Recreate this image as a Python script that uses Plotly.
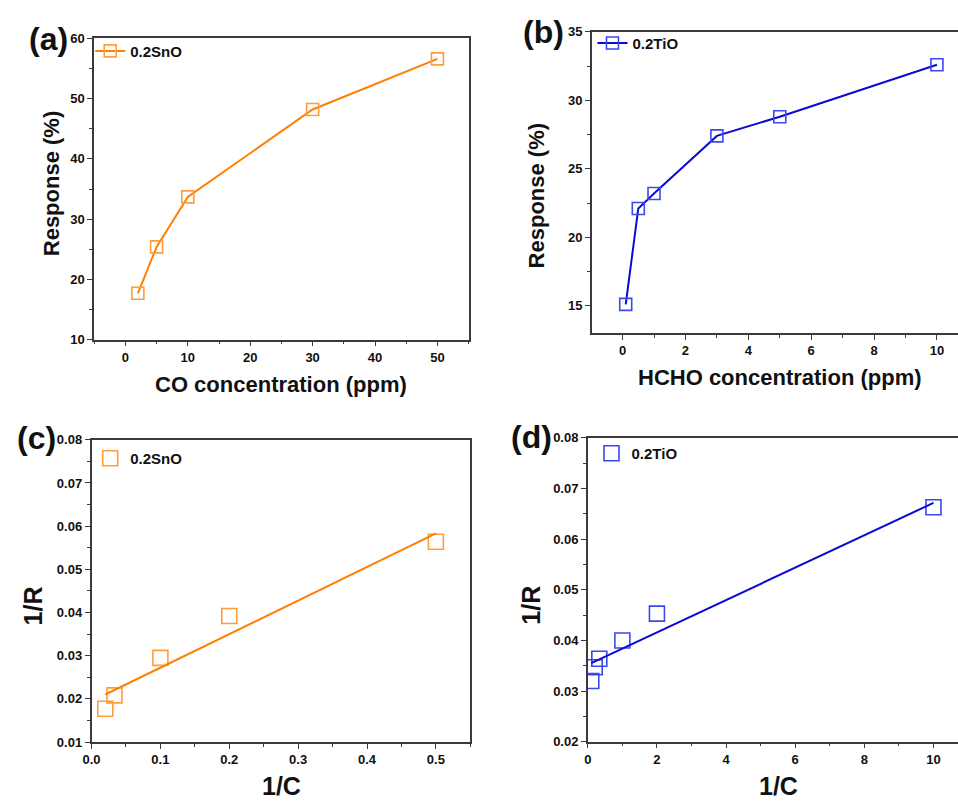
import numpy as np
import plotly.graph_objects as go

# ---- data -------------------------------------------------------------
co_ppm = [2, 5, 10, 30, 50]
co_response = [17.7, 25.4, 33.7, 48.2, 56.6]

hcho_ppm = [0.1, 0.5, 1, 3, 5, 10]
hcho_response = [15.1, 22.1, 23.2, 27.4, 28.8, 32.6]

sno_inv_c = [0.02, 1 / 30, 0.1, 0.2, 0.5]
sno_inv_r = [0.0177, 0.0208, 0.0295, 0.0392, 0.0564]

tio_inv_c = [0.1, 0.2, 1 / 3, 1, 2, 10]
tio_inv_r = [0.0320, 0.0347, 0.0364, 0.0400, 0.0453, 0.0663]

ORANGE_LINE = "#ff7f00"
ORANGE_MARK = "#ff9d3c"
BLUE_LINE = "#0a0ad0"
BLUE_MARK = "#3a48f0"
FONT = "Arial, 'Liberation Sans', sans-serif"
AXIS_COLOR = "#3a3a3a"

W, H = 958, 805


def px_x(p):
    return p / W


def px_y(p):
    return 1 - p / H


fig = go.Figure()

# (a) CO response
fig.add_trace(go.Scatter(
    x=co_ppm, y=co_response, mode="lines+markers", name="0.2SnO",
    line=dict(color=ORANGE_LINE, width=2),
    marker=dict(symbol="square-open", size=12, color=ORANGE_MARK, line=dict(width=1.6)),
    xaxis="x", yaxis="y", legend="legend"))

# (b) HCHO response
fig.add_trace(go.Scatter(
    x=hcho_ppm, y=hcho_response, mode="lines+markers", name="0.2TiO",
    line=dict(color=BLUE_LINE, width=2),
    marker=dict(symbol="square-open", size=12, color=BLUE_MARK, line=dict(width=1.6)),
    xaxis="x2", yaxis="y2", legend="legend2"))

# (c) 1/R vs 1/C for SnO, with least-squares line
k_c, b_c = np.polyfit(sno_inv_c, sno_inv_r, 1)
xs_c = np.array([min(sno_inv_c), max(sno_inv_c)])
fig.add_trace(go.Scatter(
    x=sno_inv_c, y=sno_inv_r, mode="markers", name="0.2SnO",
    marker=dict(symbol="square-open", size=15, color=ORANGE_MARK, line=dict(width=1.6)),
    xaxis="x3", yaxis="y3", legend="legend3"))
fig.add_trace(go.Scatter(
    x=xs_c, y=k_c * xs_c + b_c, mode="lines", showlegend=False,
    line=dict(color=ORANGE_LINE, width=2), xaxis="x3", yaxis="y3"))

# (d) 1/R vs 1/C for TiO, with least-squares line
k_d, b_d = np.polyfit(tio_inv_c, tio_inv_r, 1)
xs_d = np.array([min(tio_inv_c), max(tio_inv_c)])
fig.add_trace(go.Scatter(
    x=tio_inv_c, y=tio_inv_r, mode="markers", name="0.2TiO",
    marker=dict(symbol="square-open", size=15, color=BLUE_MARK, line=dict(width=1.6)),
    xaxis="x4", yaxis="y4", legend="legend4"))
fig.add_trace(go.Scatter(
    x=xs_d, y=k_d * xs_d + b_d, mode="lines", showlegend=False,
    line=dict(color=BLUE_LINE, width=2), xaxis="x4", yaxis="y4"))


def axis(domain, rng, dtick, minor_dtick, anchor, mirror=True, fmt=None, tick0=0):
    d = dict(
        domain=domain, range=rng, anchor=anchor,
        showline=True, linecolor=AXIS_COLOR, linewidth=1.5, mirror=mirror,
        showgrid=False, zeroline=False,
        ticks="outside", ticklen=5, tickwidth=1.3, tickcolor=AXIS_COLOR,
        tick0=tick0, dtick=dtick,
        minor=dict(ticks="outside", ticklen=3, tickwidth=1.1, tickcolor=AXIS_COLOR,
                   dtick=minor_dtick, tick0=tick0, showgrid=False),
        tickfont=dict(family=FONT, size=13, color="#111111", weight="bold"),
    )
    if fmt:
        d["tickformat"] = fmt
    return d


legend_common = dict(
    bgcolor="rgba(0,0,0,0)", borderwidth=0, xanchor="left", yanchor="middle",
    font=dict(family=FONT, size=15, color="#111111", weight="bold"),
)

fig.update_layout(
    width=W, height=H,
    margin=dict(l=0, r=0, t=0, b=0),
    paper_bgcolor="white", plot_bgcolor="white",
    xaxis=axis([px_x(86), px_x(464)], [-5, 55], 10, 5, "y"),
    yaxis=axis([px_y(339), px_y(32)], [10, 60], 10, 5, "x"),
    xaxis2=axis([px_x(588.3), 1.0], [-0.98, 10.67], 2, 1, "y2"),
    yaxis2=axis([px_y(332.3), px_y(25.3)], [13, 35], 5, 2.5, "x2", mirror=False),
    xaxis3=axis([px_x(83.3), px_x(465.7)], [0, 0.55], 0.1, 0.05, "y3", fmt=".1f"),
    yaxis3=axis([px_y(749), px_y(441)], [0.01, 0.08], 0.01, 0.005, "x3", fmt=".2f"),
    xaxis4=axis([px_x(584.3), 1.0], [0, 10.71], 2, 1, "y4"),
    yaxis4=axis([px_y(748.7), px_y(439)], [0.02, 0.08], 0.01, 0.005, "x4", mirror=False, fmt=".2f"),
    legend=dict(x=px_x(82), y=px_y(45), **legend_common),
    legend2=dict(x=px_x(589), y=px_y(37), **legend_common),
    legend3=dict(x=px_x(82), y=px_y(460), **legend_common),
    legend4=dict(x=px_x(588), y=px_y(455), **legend_common),
)

# top border for the right-hand panels, whose frame runs off the page edge
fig.update_xaxes(mirror=True, selector=dict(anchor="y2"))
fig.update_xaxes(mirror=True, selector=dict(anchor="y4"))

title_font = dict(family=FONT, size=22, color="#111111", weight="bold")
big_font = dict(family=FONT, size=25, color="#111111", weight="bold")
panel_font = dict(family=FONT, size=32, color="#111111", weight="bold")

notes = [
    ("CO concentration (ppm)", 275, 385, 0, title_font),
    ("Response (%)", 43, 180, -90, title_font),
    ("HCHO concentration (ppm)", 778, 378, 0, title_font),
    ("Response (%)", 532, 193, -90, title_font),
    ("1/C", 275, 794, 0, big_font),
    ("1/R", 24, 610, -90, big_font),
    ("1/C", 777, 794, 0, big_font),
    ("1/R", 527, 610, -90, big_font),
    ("(a)", 40, 33, 0, panel_font),
    ("(b)", 540, 25, 0, panel_font),
    ("(c)", 28, 439, 0, panel_font),
    ("(d)", 527, 438, 0, panel_font),
]
for text, x, y, ang, f in notes:
    fig.add_annotation(text=text, x=px_x(x), y=px_y(y), xref="paper", yref="paper",
                       xanchor="center", yanchor="middle", textangle=ang,
                       showarrow=False, font=f)

fig.write_html("out.html")
